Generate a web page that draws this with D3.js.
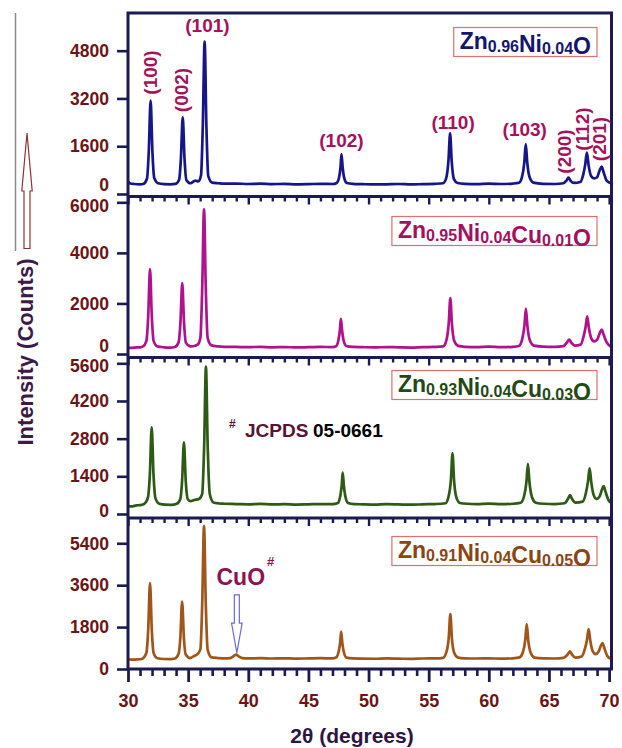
<!DOCTYPE html>
<html>
<head>
<meta charset="utf-8">
<script src="https://cdn.jsdelivr.net/npm/d3@7"></script>
<style>
  body { margin: 0; background: #fff; }
  svg { display: block; font-family: "Liberation Sans", Arial, sans-serif; font-weight: bold; }
</style>
</head>
<body>
<div id="chart"></div>
<script>
// XRD 图谱 — 四个样品堆叠面板

// 2θ 范围与刻度
const thetaDomain = [30, 70.2];
const thetaMajor = [30, 35, 40, 45, 50, 55, 60, 65, 70];
const thetaMinor = d3.range(30, 71, 1);

// 样品名（元素, 下标）
const sampleNames = [
  [['Zn', '0.96'], ['Ni', '0.04'], ['O', '']],
  [['Zn', '0.95'], ['Ni', '0.04'], ['Cu', '0.01'], ['O', '']],
  [['Zn', '0.93'], ['Ni', '0.04'], ['Cu', '0.03'], ['O', '']],
  [['Zn', '0.91'], ['Ni', '0.04'], ['Cu', '0.05'], ['O', '']]
];

// y 轴刻度
const ticks1 = [0, 1600, 3200, 4800];
const ticks2 = [0, 2000, 4000, 6000];
const ticks3 = [0, 1400, 2800, 4200, 5600];
const ticks4 = [0, 1800, 3600, 5400];

// y 轴范围（counts）
const ylim1 = [-84, 6062];
const ylim2 = [-138, 6230];
const ylim3 = [-149, 5816];
const ylim4 = [0, 6485];

// 晶面指数与峰位（ZnO 纤锌矿）
const hklNames = ['(100)', '(002)', '(101)', '(102)', '(110)', '(103)', '(200)', '(112)', '(201)'];
const hklPeaks = [31.88, 34.55, 36.37, 47.75, 56.78, 63.07, 66.62, 68.15, 69.38];

// CuO 杂相峰
const cuoPeak = 39.05;

// 衍射数据 [2θ, counts]
const zn096 = [[30.0,410],[30.2,350],[30.5,335],[31.0,325],[31.3,345],[31.58,520],[31.73,1450],[31.88,3125],[32.03,1420],[32.18,540],[32.5,360],[33.0,330],[33.5,325],[33.95,340],[34.25,480],[34.4,1200],[34.55,2570],[34.7,1180],[34.85,470],[35.2,360],[35.6,450],[35.85,420],[36.07,620],[36.22,2300],[36.37,5100],[36.52,2250],[36.67,610],[37.0,380],[37.5,360],[38.0,345],[39,350],[40,335],[41,345],[42,330],[43,340],[44,325],[45,330],[46,340],[47,335],[47.35,370],[47.55,560],[47.67,900],[47.75,1340],[47.85,880],[47.97,550],[48.2,370],[48.7,340],[49.5,330],[50.5,320],[51.5,325],[52.5,335],[53.5,320],[54.5,330],[55.5,340],[56.2,360],[56.45,520],[56.65,1150],[56.78,2035],[56.91,1120],[57.1,500],[57.4,370],[58,340],[59,330],[60,345],[61,335],[62,350],[62.5,375],[62.75,560],[62.95,1050],[63.07,1675],[63.2,1030],[63.4,550],[63.7,380],[64.5,340],[65.5,335],[66.2,360],[66.45,450],[66.62,545],[66.8,440],[67.1,370],[67.6,400],[67.85,650],[68.02,1000],[68.15,1385],[68.3,950],[68.5,600],[68.75,520],[69.0,560],[69.2,780],[69.38,915],[69.55,720],[69.8,450],[70.15,360]];

const zn095cu001 = [[30.0,250],[30.3,240],[30.7,260],[31.0,265],[31.25,300],[31.53,520],[31.68,1500],[31.83,3360],[31.98,1480],[32.13,520],[32.45,300],[33.0,265],[33.5,255],[33.9,280],[34.2,450],[34.36,1250],[34.51,2800],[34.66,1230],[34.82,440],[35.2,300],[35.6,330],[35.85,400],[36.02,650],[36.17,2600],[36.32,5720],[36.47,2550],[36.62,640],[36.95,340],[37.5,300],[38,285],[39,280],[40,270],[41,285],[42,265],[43,275],[44,260],[45,270],[46,280],[47,275],[47.3,310],[47.5,560],[47.62,950],[47.7,1390],[47.8,930],[47.92,550],[48.15,320],[48.7,280],[49.5,270],[50.5,260],[51.5,275],[52.5,265],[53.5,255],[54.5,270],[55.5,280],[56.2,300],[56.47,540],[56.67,1230],[56.8,2215],[56.93,1200],[57.12,520],[57.45,320],[58,285],[59,275],[60,290],[61,270],[62,285],[62.5,320],[62.76,560],[62.96,1120],[63.08,1795],[63.21,1100],[63.41,540],[63.75,330],[64.5,290],[65.5,280],[66.2,310],[66.5,460],[66.68,570],[66.86,450],[67.15,330],[67.65,380],[67.88,700],[68.05,1080],[68.18,1490],[68.32,1030],[68.52,620],[68.75,500],[69.0,560],[69.2,800],[69.38,965],[69.55,760],[69.8,460],[70.15,300]];

const zn093cu003 = [[30.0,300],[30.3,280],[30.7,320],[31.0,330],[31.35,380],[31.65,600],[31.82,1500],[31.97,3220],[32.12,1470],[32.28,590],[32.6,380],[33.1,345],[33.6,340],[34.05,380],[34.35,560],[34.5,1250],[34.65,2665],[34.8,1230],[34.96,560],[35.2,480],[35.5,520],[35.9,560],[36.17,750],[36.33,2500],[36.48,5475],[36.63,2450],[36.8,740],[37.1,430],[37.6,390],[38,380],[39,370],[40,360],[41,375],[42,355],[43,365],[44,350],[45,360],[46,370],[47,365],[47.45,410],[47.65,680],[47.77,1060],[47.85,1535],[47.95,1040],[48.07,660],[48.3,410],[48.8,370],[49.5,360],[50.5,350],[51.5,365],[52.5,355],[53.5,345],[54.5,360],[55.5,370],[56.4,400],[56.65,640],[56.85,1280],[56.98,2255],[57.11,1250],[57.3,620],[57.6,410],[58.2,380],[59,370],[60,385],[61,365],[62,380],[62.65,420],[62.93,660],[63.13,1200],[63.25,1860],[63.38,1180],[63.58,640],[63.9,420],[64.6,380],[65.5,370],[66.3,400],[66.58,560],[66.75,705],[66.92,560],[67.2,420],[67.8,460],[68.08,800],[68.25,1220],[68.38,1700],[68.52,1170],[68.72,700],[68.95,560],[69.2,640],[69.4,900],[69.55,1040],[69.7,830],[69.95,520],[70.15,420]];

const zn091cu005 = [[30.0,420],[30.3,400],[30.7,410],[31.0,420],[31.25,460],[31.53,700],[31.68,1700],[31.83,3690],[31.98,1660],[32.13,690],[32.45,460],[33.0,430],[33.5,425],[33.9,450],[34.2,640],[34.35,1330],[34.5,2900],[34.65,1300],[34.8,620],[35.15,470],[35.5,560],[35.8,650],[36.02,850],[36.17,2800],[36.32,6140],[36.47,2750],[36.62,830],[36.95,500],[37.5,470],[38.0,455],[38.5,470],[38.8,560],[39.0,615],[39.2,540],[39.5,470],[40,455],[41,465],[42,450],[43,460],[44,445],[45,455],[46,465],[47,455],[47.3,490],[47.52,760],[47.64,1140],[47.72,1610],[47.82,1110],[47.94,740],[48.17,490],[48.7,455],[49.5,445],[50.5,440],[51.5,455],[52.5,445],[53.5,435],[54.5,450],[55.5,455],[56.2,480],[56.47,720],[56.67,1350],[56.8,2360],[56.93,1320],[57.12,700],[57.45,490],[58,460],[59,450],[60,455],[61,445],[62,460],[62.55,500],[62.83,720],[63.03,1250],[63.15,1930],[63.28,1220],[63.48,700],[63.8,490],[64.5,455],[65.5,450],[66.2,480],[66.58,640],[66.75,755],[66.92,620],[67.2,490],[67.72,540],[67.98,850],[68.16,1250],[68.3,1715],[68.44,1200],[68.64,760],[68.88,640],[69.12,740],[69.3,980],[69.45,1115],[69.6,900],[69.85,560],[70.15,440]];

// ---- 布局 ----
const W = 622, H = 748;
const left = 128, right = 611.5;
const axisColor = '#1b1b52';
const tickLabelColor = '#6b1414';
const tickFont = 17.5;

const panels = [
  { data: zn096,      ticks: ticks1, ylim: ylim1, top: 13,    bottom: 196.5, color: '#16168a', textColor: '#15156e', legendCy: 42,  zeroDy: -9, topDy: 0 },
  { data: zn095cu001, ticks: ticks2, ylim: ylim2, top: 196.5, bottom: 357.5, color: '#b0128c', textColor: '#a3105e', legendCy: 231, zeroDy: -8, topDy: 4 },
  { data: zn093cu003, ticks: ticks3, ylim: ylim3, top: 357.5, bottom: 518,   color: '#2d5a14', textColor: '#1f4a14', legendCy: 385, zeroDy: -3, topDy: 3 },
  { data: zn091cu005, ticks: ticks4, ylim: ylim4, top: 518,   bottom: 669,   color: '#a0561a', textColor: '#8b4513', legendCy: 551, zeroDy: 0,  topDy: 1 }
];

// hkl 标签偏移（像素）
const hklLayout = [
  { dx: 6.4, y: 72.5, rot: true },
  { dx: 5.3, y: 90,   rot: true },
  { dx: 2.8, y: 32,   rot: false },
  { dx: 0,   y: 147,  rot: false },
  { dx: 3,   y: 129,  rot: false },
  { dx: -1,  y: 136,  rot: false },
  { dx: 3,   y: 151.5, rot: true },
  { dx: 2.6, y: 129,  rot: true },
  { dx: 4.8, y: 139,  rot: true }
];

const svg = d3.select('#chart').append('svg')
  .attr('width', W)
  .attr('height', H)
  .attr('viewBox', `0 0 ${W} ${H}`);

svg.append('rect').attr('width', W).attr('height', H).attr('fill', '#fff');

const x = d3.scaleLinear().domain(thetaDomain).range([left, right]);

panels.forEach((p, i) => {
  const y = d3.scaleLinear().domain(p.ylim).range([p.bottom, p.top]);
  p.y = y;

  // 曲线
  const line = d3.line()
    .x(d => x(d[0]))
    .y(d => y(d[1]))
    .curve(d3.curveMonotoneX);

  svg.append('path')
    .datum(p.data)
    .attr('d', line)
    .attr('fill', 'none')
    .attr('stroke', p.color)
    .attr('stroke-width', 2.7)
    .attr('stroke-linejoin', 'round');

  // y 轴
  const yAxis = svg.append('g')
    .attr('transform', `translate(${left},0)`)
    .call(d3.axisLeft(y).tickValues(p.ticks).tickSize(11).tickPadding(8).tickFormat(d3.format('d')));
  yAxis.select('.domain').remove();
  yAxis.selectAll('line').attr('stroke', axisColor).attr('stroke-width', 2.6);
  yAxis.selectAll('text')
    .attr('fill', tickLabelColor)
    .attr('font-size', tickFont)
    .attr('font-weight', 'bold')
    .attr('font-family', '"Liberation Sans", Arial, sans-serif')
    .attr('dy', (d, k) => {
      const base = 0.32 * tickFont;
      if (d === 0) return base + p.zeroDy;
      if (k === p.ticks.length - 1) return base + p.topDy;
      return base;
    });

  // 面板上沿的内向 x 刻度
  if (i > 0) {
    const g = svg.append('g')
      .attr('transform', `translate(0,${p.top})`)
      .call(d3.axisBottom(x).tickValues(thetaMinor).tickSize(5).tickFormat(''));
    g.select('.domain').remove();
    g.selectAll('line')
      .attr('stroke', axisColor)
      .attr('stroke-width', 2.4)
      .attr('y2', d => (d % 5 === 0 ? 8 : 5));
  }

  // 图例
  const lg = svg.append('g');
  const txt = lg.append('text')
    .attr('x', 591)
    .attr('y', p.legendCy + 7)
    .attr('text-anchor', 'end')
    .attr('fill', p.textColor);
  sampleNames[i].forEach(([el, sub]) => {
    txt.append('tspan').attr('font-size', 23).text(el);
    if (sub) {
      txt.append('tspan').attr('font-size', 16).attr('dy', 2.5).text(sub);
      txt.append('tspan').attr('font-size', 23).attr('dy', -2.5).text('');
    }
  });
  const bb = txt.node().getBBox();
  lg.insert('rect', 'text')
    .attr('x', bb.x - 6)
    .attr('y', p.legendCy - 14.5)
    .attr('width', bb.width + 12)
    .attr('height', 29)
    .attr('fill', '#fff')
    .attr('stroke', '#e07070')
    .attr('stroke-width', 1.2);
});

// 面板分隔线
panels.slice(0, 3).forEach(p => {
  svg.append('line')
    .attr('x1', left).attr('x2', right)
    .attr('y1', p.bottom).attr('y2', p.bottom)
    .attr('stroke', axisColor).attr('stroke-width', 2.8);
});

// 外框
svg.append('rect')
  .attr('x', left).attr('y', 13)
  .attr('width', right - left).attr('height', 669 - 13)
  .attr('fill', 'none')
  .attr('stroke', axisColor)
  .attr('stroke-width', 3);

// 底部 x 轴
const xMinor = svg.append('g')
  .attr('transform', 'translate(0,669)')
  .call(d3.axisBottom(x).tickValues(thetaMinor.filter(d => d % 5 !== 0)).tickSize(7).tickFormat(''));
xMinor.select('.domain').remove();
xMinor.selectAll('line').attr('stroke', axisColor).attr('stroke-width', 2.6);

const xMajor = svg.append('g')
  .attr('transform', 'translate(0,669)')
  .call(d3.axisBottom(x).tickValues(thetaMajor).tickSize(13).tickPadding(12).tickFormat(d3.format('d')));
xMajor.select('.domain').remove();
xMajor.selectAll('line').attr('stroke', axisColor).attr('stroke-width', 2.8);
xMajor.selectAll('text')
  .attr('fill', tickLabelColor)
  .attr('font-size', 18)
  .attr('font-weight', 'bold')
  .attr('font-family', '"Liberation Sans", Arial, sans-serif');

// 轴标题
svg.append('text')
  .attr('x', 352).attr('y', 743)
  .attr('text-anchor', 'middle')
  .attr('font-size', 21)
  .attr('fill', '#2e1440')
  .text('2θ (degrees)');

svg.append('text')
  .attr('transform', 'translate(33,352) rotate(-90)')
  .attr('text-anchor', 'middle')
  .attr('font-size', 22)
  .attr('fill', '#3b1a47')
  .text('Intensity (Counts)');

// 左侧竖线与向上箭头
svg.append('line')
  .attr('x1', 15.5).attr('x2', 15.5)
  .attr('y1', 13).attr('y2', 251)
  .attr('stroke', '#8a8a8a').attr('stroke-width', 1.5);

svg.append('path')
  .attr('d', 'M24,248.5 L24,191 L21.8,191 L27,133 L32.2,191 L30,191 L30,248.5 Z')
  .attr('fill', '#fff')
  .attr('stroke', '#8b3434')
  .attr('stroke-width', 1.2);

// hkl 标签
hklNames.forEach((name, k) => {
  const L = hklLayout[k];
  const px = x(hklPeaks[k]) + L.dx;
  const t = svg.append('text')
    .attr('text-anchor', 'middle')
    .attr('font-size', 19)
    .attr('fill', '#a3125a')
    .text(name);
  if (L.rot) {
    t.attr('transform', `translate(${px},${L.y}) rotate(-90)`);
  } else {
    t.attr('x', px).attr('y', L.y);
  }
});

// JCPDS 注记
svg.append('text').attr('x', 229).attr('y', 428).attr('font-size', 12).attr('fill', '#5b1233').text('#');
svg.append('text').attr('x', 245).attr('y', 437).attr('font-size', 19).attr('fill', '#5b1233').text('JCPDS');
svg.append('text').attr('x', 313).attr('y', 437).attr('font-size', 19).attr('fill', '#000').text('05-0661');

// CuO 标注与箭头
const y4 = panels[3].y;
const ax = x(cuoPeak);
const aTop = y4(3185), aHead = y4(1970), aTip = y4(690);
svg.append('path')
  .attr('d', `M${ax - 2.5},${aTop} L${ax + 2.5},${aTop} L${ax + 2.5},${aHead} L${ax + 5.3},${aHead} L${ax},${aTip} L${ax - 5.3},${aHead} L${ax - 2.5},${aHead} Z`)
  .attr('fill', '#fff')
  .attr('stroke', '#6a6ae6')
  .attr('stroke-width', 1.2);

svg.append('text').attr('x', 216.5).attr('y', 585).attr('font-size', 23).attr('fill', '#8b1550').text('CuO');
svg.append('text').attr('x', 267).attr('y', 566).attr('font-size', 13).attr('fill', '#8b1550').text('#');
</script>
</body>
</html>
